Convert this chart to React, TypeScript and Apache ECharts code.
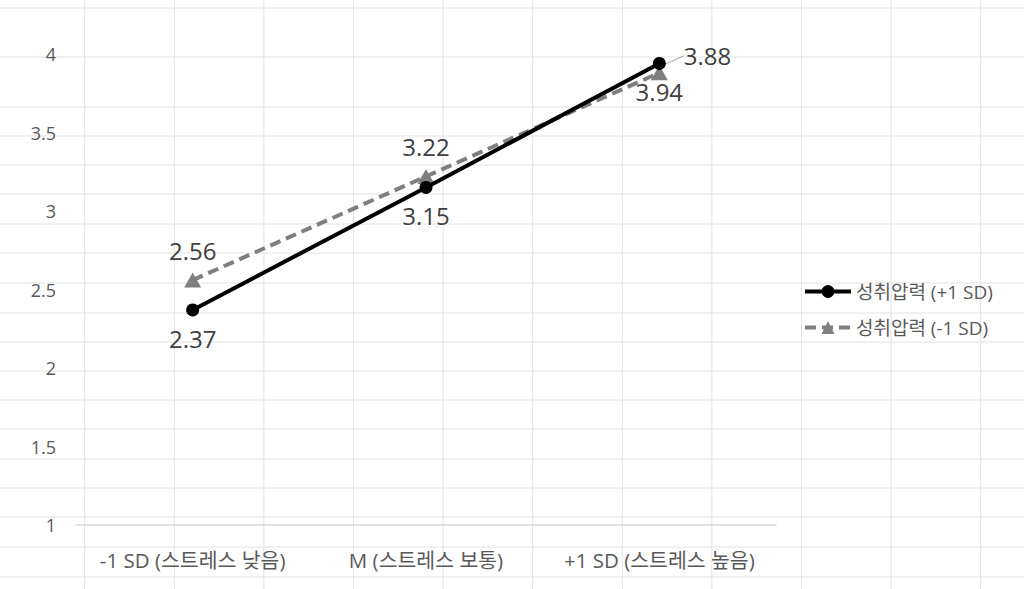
import React, { useEffect, useRef } from "react";
import * as echarts from "echarts";

const categories = ["-1 SD (스트레스 낮음)", "M (스트레스 보통)", "+1 SD (스트레스 높음)"];
const seriesNames = ["성취압력 (+1 SD)", "성취압력 (-1 SD)"];
const highPressure = [2.37, 3.15, 3.94];
const lowPressure = [2.56, 3.22, 3.88];
const yMin = 1;
const yMax = 4;
const yStep = 0.5;

// spreadsheet cell grid behind the chart (decoration)
const cellCols = [84.7, 174.3, 263.9, 353.5, 443.1, 532.7, 622.3, 711.9, 801.5, 891.1, 980.7];
const cellRows = [8, 57, 107, 136, 165, 194, 224, 253, 283, 313, 342, 371, 400, 429, 459, 488, 517, 547, 577];

const FONT = "'Open Sans', 'Noto Sans CJK KR', sans-serif";

export default function App() {
  const ref = useRef<HTMLDivElement>(null);

  useEffect(() => {
    if (!ref.current) return;
    const chart = echarts.init(ref.current, undefined, { renderer: "svg" });

    const W = 1024;
    const H = 589;
    const cellLines: any[] = [];
    cellCols.forEach((x) =>
      cellLines.push({
        type: "line",
        silent: true,
        z: -10,
        shape: { x1: x, y1: 0, x2: x, y2: H },
        style: { stroke: "#e2e2e2", lineWidth: 1 },
      })
    );
    cellRows.forEach((y) =>
      cellLines.push({
        type: "line",
        silent: true,
        z: -10,
        shape: { x1: 0, y1: y, x2: W, y2: y },
        style: { stroke: "#e2e2e2", lineWidth: 1 },
      })
    );

    chart.setOption({
      animation: false,
      backgroundColor: "#ffffff",
      textStyle: { fontFamily: FONT },
      graphic: cellLines,
      grid: { left: 76, right: 248, top: 54, bottom: 64, containLabel: false },
      legend: {
        orient: "vertical",
        left: 798,
        top: 277,
        itemWidth: 46,
        itemHeight: 16,
        itemGap: 17,
        lineStyle: { width: 4 },
        textStyle: { fontSize: 19, color: "#595959", fontFamily: FONT },
        data: seriesNames,
      },
      xAxis: {
        type: "category",
        data: categories,
        boundaryGap: true,
        axisLine: { show: true, lineStyle: { color: "#d9d9d9", width: 1.5 } },
        axisTick: { show: false },
        splitLine: { show: false },
        axisLabel: { interval: 0, fontSize: 20.5, color: "#595959", margin: 25, fontFamily: FONT },
      },
      yAxis: {
        type: "value",
        min: yMin,
        max: yMax,
        interval: yStep,
        axisLine: { show: false },
        axisTick: { show: false },
        splitLine: { show: false },
        axisLabel: { fontSize: 18, color: "#595959", margin: 20, fontFamily: FONT },
      },
      series: [
        {
          name: seriesNames[0],
          type: "line",
          data: highPressure,
          symbol: "circle",
          symbolSize: 13,
          z: 3,
          lineStyle: { color: "#000000", width: 4 },
          itemStyle: { color: "#000000" },
          label: {
            show: true,
            position: "bottom",
            distance: 10,
            fontSize: 24,
            color: "#404040",
            fontFamily: FONT,
          },
        },
        {
          name: seriesNames[1],
          type: "line",
          data: lowPressure.map((v, i) =>
            i === 2
              ? {
                  value: v,
                  label: { position: "right", distance: 16 },
                  labelLine: { show: true, lineStyle: { color: "#a6a6a6", width: 1 } },
                }
              : v
          ),
          symbol: "triangle",
          symbolSize: [17, 15],
          z: 2,
          lineStyle: { color: "#7f7f7f", width: 4, type: [11, 6] },
          itemStyle: { color: "#7f7f7f" },
          label: {
            show: true,
            position: "top",
            distance: 10,
            fontSize: 24,
            color: "#404040",
            fontFamily: FONT,
          },
          labelLayout: (p: any) => (p.dataIndex === 2 ? { dy: -17 } : {}),
        },
      ],
    });

    return () => chart.dispose();
  }, []);

  return (
    <div
      ref={ref}
      style={{ position: "fixed", left: 0, top: 0, width: 1024, height: 589 }}
    />
  );
}
